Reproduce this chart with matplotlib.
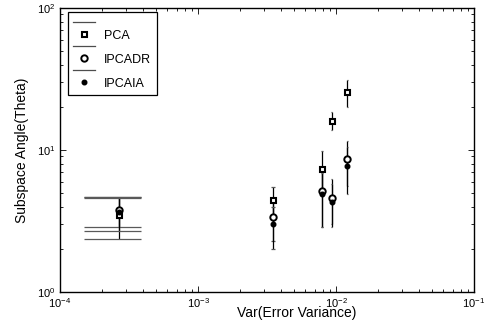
import matplotlib
matplotlib.use('Agg')
import matplotlib.pyplot as plt
from matplotlib.lines import Line2D
import numpy as np

plt.rcParams['font.family'] = ['Liberation Sans', 'DejaVu Sans']
plt.rcParams['mathtext.fontset'] = 'custom'
plt.rcParams['mathtext.rm'] = 'Liberation Sans'
plt.rcParams['mathtext.it'] = 'Liberation Sans'

# error variance (x) for the five test cases
err_var = [2.68e-4, 3.51e-3, 7.92e-3, 9.31e-3, 1.21e-2]

# subspace angle mean and +/- spread per method
pca_y = [3.50, 4.45, 7.30, 16.1, 25.5]
pca_e = [1.15, 1.07, 2.50, 2.30, 5.50]
dr_y = [3.75, 3.40, 5.15, 4.60, 8.60]
dr_e = [0.90, 1.10, 2.27, 1.60, 3.00]
ia_y = [3.65, 3.00, 4.87, 4.32, 7.70]
ia_e = [0.95, 1.00, 2.00, 1.45, 2.83]

names = ['PCA', 'IPCADR', 'IPCAIA']

px = 1 / 100
fig = plt.figure(figsize=(491 * px, 327 * px), dpi=100)
ax = fig.add_axes([60 / 491, 35 / 327, 414 / 491, 284 / 327])

x = np.array(err_var)
# matlab-style caps: half width = x range / 100, in data units
tee = (x.max() - x.min()) / 100

series = [(pca_y, pca_e, dict(marker='s', ms=3.6, mfc='white', mew=1.5)),
          (dr_y, dr_e, dict(marker='o', ms=4.6, mfc='white', mew=1.4)),
          (ia_y, ia_e, dict(marker='o', ms=3.3, mfc='black', mew=1.0))]

for yv, ev, mk in series:
    y = np.array(yv)
    e = np.array(ev)
    ax.vlines(x, y - e, y + e, color='black', lw=0.9, zorder=2)
    ax.hlines(y - e, x - tee, x + tee, color='0.35', lw=0.9, zorder=2)
    ax.hlines(y + e, x - tee, x + tee, color='0.35', lw=0.9, zorder=2)
    ax.plot(x, y, ls='none', color='black', mec='black', zorder=3, **mk)

ax.set_xscale('log')
ax.set_yscale('log')
ax.set_xlim(1e-4, 1e-1)
ax.set_ylim(1, 100)

for s in ax.spines.values():
    s.set_linewidth(1.0)
ax.tick_params(which='both', direction='in', top=True, right=True, labelsize=8, width=0.6)
ax.tick_params(which='major', length=4, pad=3)
ax.tick_params(which='minor', length=2.5)

ax.set_xlabel('Var(Error Variance)', fontsize=10)
ax.set_ylabel('Subspace Angle(Theta)', fontsize=10)
ax.xaxis.set_label_coords(0.572, -0.05)
ax.yaxis.set_label_coords(-0.075, 0.5)

handles, labels = [], []
for (yv, ev, mk), nm in zip(series, names):
    handles.append(Line2D([], [], color='0.3', lw=0.9))
    labels.append('')
    handles.append(Line2D([], [], ls='none', color='black', mec='black', **mk))
    labels.append(nm)
leg = ax.legend(handles, labels, loc='upper left', bbox_to_anchor=(0.019, 0.986),
                fontsize=9, frameon=True, fancybox=False, framealpha=1,
                edgecolor='black', handlelength=1.75, handletextpad=0.7,
                labelspacing=0.0, borderpad=0.45, borderaxespad=0)
leg.get_frame().set_linewidth(0.9)

fig.savefig('out.png', dpi=100)
